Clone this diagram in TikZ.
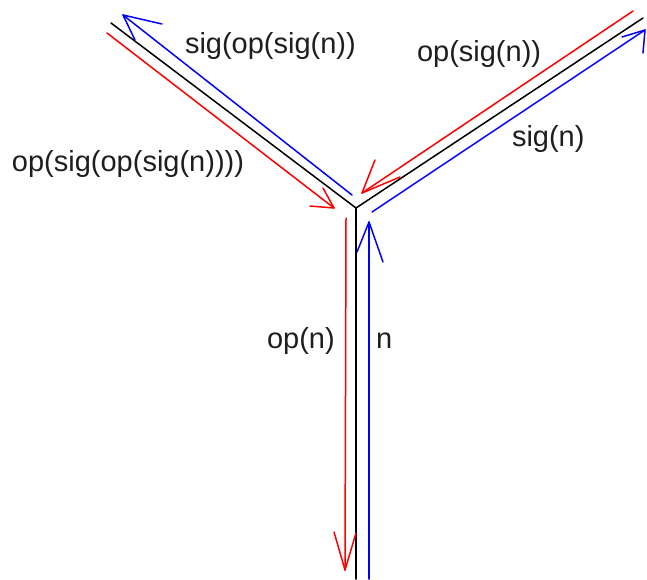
\documentclass[tikz,border=0pt]{standalone}
\usepackage{fontspec}
\setmainfont{Liberation Sans}
\begin{document}
\begin{tikzpicture}[x=1pt,y=-1pt,
  wire/.style={line width=1.5pt,line join=round,line cap=round},
  redw/.style={wire,draw={rgb,255:red,255;green,0;blue,0}},
  bluew/.style={wire,draw={rgb,255:red,0;green,0;blue,255}},
  blackw/.style={wire,draw=black},
  lbl/.style={anchor=base west,inner sep=0pt,outer sep=0pt,font=\fontsize{29}{32}\selectfont,text={rgb,255:red,30;green,30;blue,30}}]
\useasboundingbox (0,0) rectangle (647,579);
% black Y
\coordinate (C) at (356,208);
\coordinate (B) at (356,579);
\coordinate (UL) at (111,23);
\coordinate (UR) at (643,18);
\draw[blackw] (UL) -- (C) -- (UR);
\draw[blackw] (C) -- (B);
% red upper-right arrow
\coordinate (rurS) at (633,11);
\coordinate (rurT) at (362,193);
\coordinate (rurA) at (375,160);
\coordinate (rurB) at (400,177);
\draw[redw] (rurS) -- (rurT);
\draw[redw] (rurA) -- (rurT) -- (rurB);
% red upper-left arrow
\coordinate (rulS) at (107,33);
\coordinate (rulT) at (334,208);
\coordinate (rulA) at (310,206);
\coordinate (rulB) at (323,188);
\draw[redw] (rulS) -- (rulT);
\draw[redw] (rulA) -- (rulT) -- (rulB);
% blue upper-left arrow
\coordinate (bulS) at (352,195);
\coordinate (bulT) at (123,15);
\coordinate (bulA) at (162,24);
\coordinate (bulB) at (135,40);
\draw[bluew] (bulS) -- (bulT);
\draw[bluew] (bulA) -- (bulT) -- (bulB);
% blue upper-right arrow
\coordinate (burS) at (372,212);
\coordinate (burT) at (645,30);
\coordinate (burA) at (622,37);
\coordinate (burB) at (643,53);
\draw[bluew] (burS) -- (burT);
\draw[bluew] (burA) -- (burT) -- (burB);
% blue vertical arrow
\coordinate (bvS) at (369,579);
\coordinate (bvT) at (369,222);
\coordinate (bvA) at (357,252);
\coordinate (bvB) at (383,262);
\draw[bluew] (bvS) -- (bvT);
\draw[bluew] (bvA) -- (bvT) -- (bvB);
% red vertical arrow
\coordinate (rvS) at (346,218);
\coordinate (rvT) at (345,570);
\coordinate (rvA) at (334,532);
\coordinate (rvB) at (356,533);
\draw[redw] (rvS) -- (rvT);
\draw[redw] (rvA) -- (rvT) -- (rvB);
% labels
\node[lbl] (l1) at (185,53) {sig(op(sig(n))};
\node[lbl] (l2) at (417,61) {op(sig(n))};
\node[lbl] (l3) at (512,146) {sig(n)};
\node[lbl] (l4) at (12,171) {op(sig(op(sig(n))))};
\node[lbl] (l5) at (267,348) {op(n)};
\node[lbl] (l6) at (376,348) {n};
\end{tikzpicture}
\end{document}
